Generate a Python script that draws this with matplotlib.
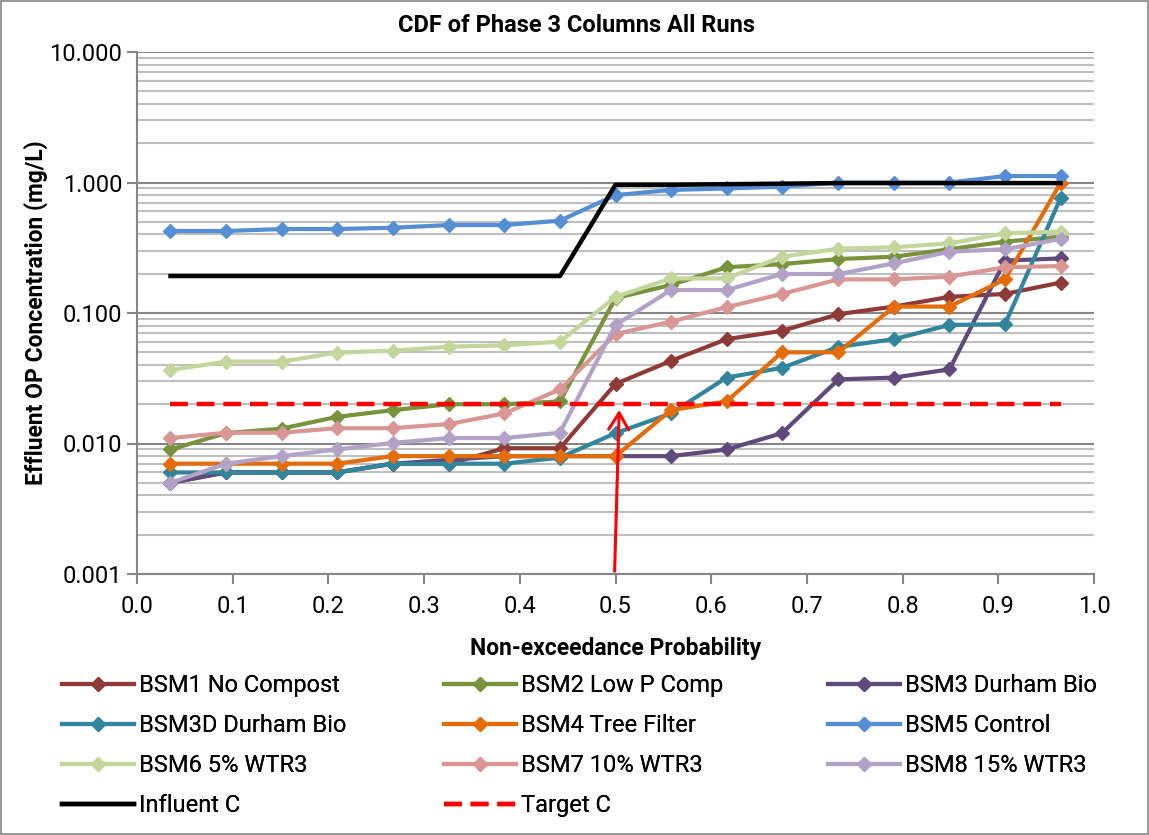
import matplotlib
matplotlib.use("Agg")
import matplotlib.pyplot as plt
from matplotlib.ticker import FixedLocator, LogLocator, NullFormatter, FormatStrFormatter
from matplotlib.patches import Rectangle
from matplotlib import font_manager

# plotting positions (non-exceedance probability)
prob = [0.035, 0.093, 0.151, 0.209, 0.267, 0.326, 0.384, 0.442, 0.500,
        0.558, 0.616, 0.674, 0.733, 0.791, 0.849, 0.907, 0.965]

bsm1 = [0.005, 0.006, 0.006, 0.006, 0.007, 0.007, 0.0092, 0.0092, 0.0286,
        0.043, 0.063, 0.073, 0.098, 0.112, 0.133, 0.140, 0.171]
bsm2 = [0.009, 0.012, 0.013, 0.016, 0.018, 0.020, 0.020, 0.021, 0.130,
        0.164, 0.224, 0.237, 0.259, 0.270, 0.308, 0.352, 0.384]
bsm3 = [0.005, 0.006, 0.006, 0.006, 0.007, 0.0075, 0.008, 0.008, 0.008,
        0.008, 0.009, 0.012, 0.031, 0.032, 0.037, 0.252, 0.262]
bsm3d = [0.006, 0.006, 0.006, 0.006, 0.007, 0.007, 0.007, 0.0078, 0.012,
         0.017, 0.032, 0.038, 0.055, 0.063, 0.081, 0.082, 0.757]
bsm4 = [0.007, 0.007, 0.007, 0.007, 0.008, 0.008, 0.008, 0.008, 0.008,
        0.018, 0.021, 0.050, 0.050, 0.112, 0.112, 0.181, 0.99]
bsm5 = [0.425, 0.425, 0.44, 0.44, 0.45, 0.472, 0.472, 0.51, 0.80,
        0.877, 0.90, 0.93, 1.0, 1.0, 1.0, 1.12, 1.12]
bsm6 = [0.0366, 0.0424, 0.0424, 0.0497, 0.0514, 0.0552, 0.0566, 0.0603, 0.133,
        0.184, 0.184, 0.270, 0.311, 0.319, 0.342, 0.408, 0.420]
bsm7 = [0.011, 0.0121, 0.0121, 0.0131, 0.0131, 0.0141, 0.0170, 0.026, 0.069,
        0.0858, 0.111, 0.140, 0.181, 0.181, 0.190, 0.224, 0.229]
bsm8 = [0.005, 0.007, 0.008, 0.009, 0.0101, 0.011, 0.011, 0.0121, 0.081,
        0.150, 0.150, 0.199, 0.199, 0.240, 0.295, 0.308, 0.369]
influent = [0.192, 0.192, 0.192, 0.192, 0.192, 0.192, 0.192, 0.192, 0.96,
            0.96, 0.97, 0.98, 0.99, 0.99, 0.99, 0.99, 0.99]
target = [0.02] * 17

series = [
    ("BSM1 No Compost", bsm1, "#8E3A37"),
    ("BSM2 Low P Comp", bsm2, "#77933C"),
    ("BSM3 Durham Bio", bsm3, "#604A7B"),
    ("BSM3D Durham Bio", bsm3d, "#31859C"),
    ("BSM4 Tree Filter", bsm4, "#E46C0A"),
    ("BSM5 Control", bsm5, "#558ED5"),
    ("BSM6 5% WTR3", bsm6, "#C3D69B"),
    ("BSM7 10% WTR3", bsm7, "#D99694"),
    ("BSM8 15% WTR3", bsm8, "#B3A2C7"),
]

available = {f.name for f in font_manager.fontManager.ttflist}
fam = "Liberation Sans Narrow" if "Liberation Sans Narrow" in available else "Roboto"
plt.rcParams['font.family'] = [fam, 'DejaVu Sans']

fig = plt.figure(figsize=(11.49, 8.35), dpi=100)
ax = fig.add_axes([137 / 1149, 1 - 574 / 835, (1094 - 137) / 1149, (574 - 52) / 835])

handles = {}
for name, vals, col in series:
    h, = ax.plot(prob, vals, color=col, lw=3, marker='D', ms=7, label=name, zorder=3)
    handles[name] = h
h, = ax.plot(prob, influent, color='black', lw=3.2, label="Influent C", zorder=3)
handles["Influent C"] = h
h, = ax.plot(prob, target, color='#FF0000', lw=3.2, ls=(0, (4, 2)), label="Target C", zorder=4)
handles["Target C"] = h

# arrow pointing at the target crossing
ax.annotate('', xy=(0.504, 0.019), xytext=(0.499, 0.001),
            arrowprops=dict(arrowstyle='->, head_length=0.5, head_width=0.3',
                            color='#FF0000', lw=2.2, mutation_scale=24),
            annotation_clip=False, zorder=5)

ax.set_yscale('log')
ax.set_ylim(0.001, 10)
ax.set_xlim(0, 1)
ax.yaxis.set_major_formatter(FormatStrFormatter('%.3f'))
ax.yaxis.set_minor_locator(LogLocator(base=10, subs=range(2, 10)))
ax.yaxis.set_minor_formatter(NullFormatter())
ax.xaxis.set_major_locator(FixedLocator([i / 10 for i in range(11)]))
ax.xaxis.set_major_formatter(FormatStrFormatter('%.1f'))

ax.grid(True, which='major', axis='y', color='#868686', lw=1.5, zorder=0)
ax.grid(True, which='minor', axis='y', color='#BFBFBF', lw=1.5, zorder=0)
ax.set_axisbelow(True)

for s in ['top', 'right']:
    ax.spines[s].set_visible(False)
for s in ['left', 'bottom']:
    ax.spines[s].set_color('#868686')
    ax.spines[s].set_linewidth(1.5)
ax.tick_params(axis='both', which='major', direction='out', length=7, width=1.5,
               color='#868686', labelsize=17)
ax.tick_params(axis='y', which='minor', length=0)
ax.tick_params(axis='x', pad=8)

fig.text(577 / 1149, 1 - 26 / 835, "CDF of Phase 3 Columns All Runs", fontsize=17,
         fontweight='bold', ha='center', va='center')
ax.set_xlabel("Non-exceedance Probability", fontsize=16.5, fontweight='bold', labelpad=14)
ax.set_ylabel("Effluent OP Concentration (mg/L)", fontsize=16.5, fontweight='bold', labelpad=1)

cols = [["BSM1 No Compost", "BSM3D Durham Bio", "BSM6 5% WTR3", "Influent C"],
        ["BSM2 Low P Comp", "BSM4 Tree Filter", "BSM7 10% WTR3", "Target C"],
        ["BSM3 Durham Bio", "BSM5 Control", "BSM8 15% WTR3"]]
xs = [62, 444, 828]
for names, x in zip(cols, xs):
    leg = fig.legend([handles[n] for n in names], names, loc='upper left',
                     bbox_to_anchor=(x / 1149, 1 - 674 / 835), frameon=False,
                     fontsize=17, handlelength=3.05, handletextpad=0.2,
                     labelspacing=0.72, borderaxespad=0, borderpad=0)
    fig.add_artist(leg)

fig.patches.append(Rectangle((0.001, 0.001), 0.998, 0.998, transform=fig.transFigure,
                             fill=False, edgecolor='#868686', lw=1.2))

fig.savefig("out.png", dpi=100)
